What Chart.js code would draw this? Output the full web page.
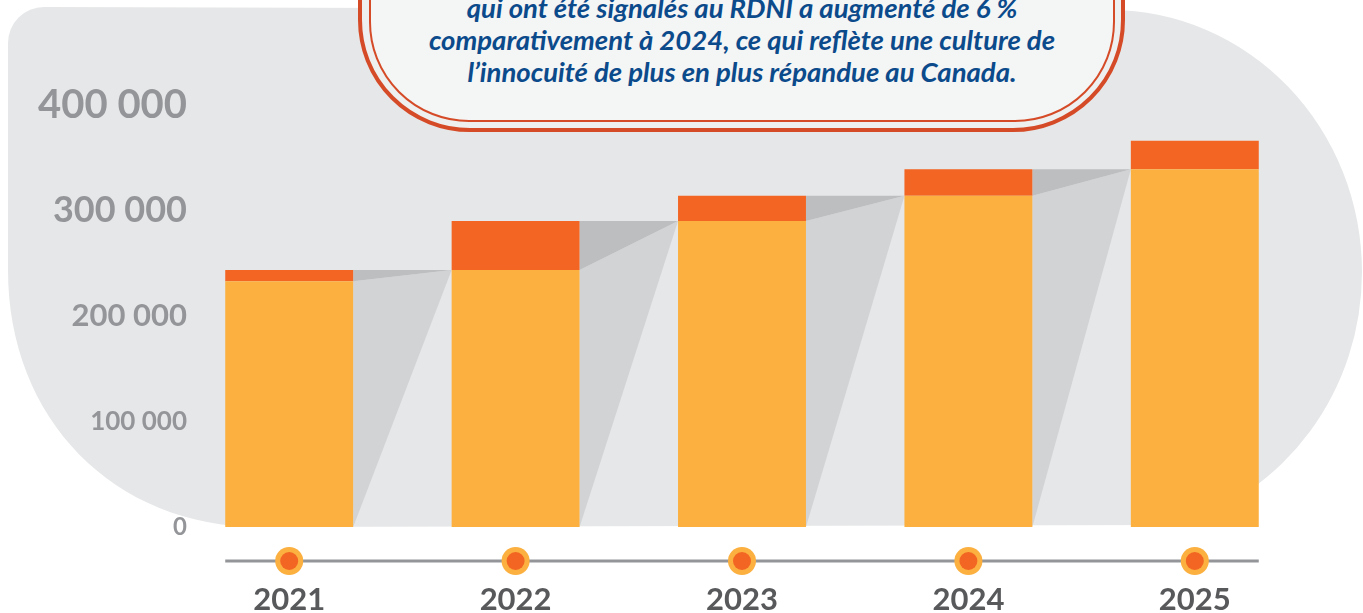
<!DOCTYPE html>
<html>
<head>
<meta charset="utf-8">
<script src="https://cdn.jsdelivr.net/npm/chart.js@4.4.0/dist/chart.umd.min.js"></script>
<style>
  html, body { margin: 0; padding: 0; background: #fff; overflow: hidden; }
  #wrap { position: relative; width: 1363px; height: 613px; overflow: hidden; }
  #chart { position: absolute; left: 0; top: 0; }
  .bubble { position: absolute; box-sizing: border-box; border-style: solid; border-color: #D54B27; }
  #bubbleBack { left: 358px; top: -120px; width: 767px; height: 252px; border-width: 4px; border-radius: 112px; background: #EEEFEF; }
  #bubbleFront { left: 369px; top: -120px; width: 746px; height: 242px; border-width: 2.5px; border-radius: 100px; background: #F4F5F5; }
  #note { position: absolute; left: 369px; width: 746px; top: -8px; text-align: center;
          font: italic bold 27.5px Lato, sans-serif; line-height: 32px; color: #0B4A8B; }
</style>
</head>
<body>
<div id="wrap">
  <canvas id="chart" width="1363" height="613"></canvas>
  <div class="bubble" id="bubbleBack"></div>
  <div class="bubble" id="bubbleFront"></div>
  <div id="note">qui ont été signalés au RDNI a augmenté de 6 %<br>comparativement à 2024, ce qui reflète une culture de<br>l’innocuité de plus en plus répandue au Canada.</div>
</div>
<script>
// values
const years = ["2021", "2022", "2023", "2024", "2025"];
const previousTotal = [233000, 243500, 290000, 314000, 339000];
const increase = [10500, 46500, 24000, 25000, 27000];
const yTickLabels = ["0", "100 000", "200 000", "300 000", "400 000"];
const yTickSizes = [24, 26, 31, 36, 40];

const LIGHT = "#FBB040";
const DARK = "#F26522";

// grey blob behind everything
const backdrop = {
  id: "backdrop",
  beforeDraw(chart) {
    const ctx = chart.ctx;
    ctx.save();
    ctx.fillStyle = "#E6E7E8";
    ctx.beginPath();
    ctx.moveTo(8, 270);
    ctx.lineTo(8, 43);
    ctx.arcTo(8, 7, 44, 7, 36);
    ctx.lineTo(1110, 10);
    ctx.ellipse(1110, 272, 252, 262, 0, -Math.PI / 2, (75 * Math.PI) / 180, false);
    ctx.lineTo(260, 527);
    ctx.bezierCurveTo(114, 527, 8, 419, 8, 270);
    ctx.closePath();
    ctx.fill();
    ctx.restore();
  },
};

// grey "shadow" triangles joining each bar to the next
const connectors = {
  id: "connectors",
  beforeDatasetsDraw(chart) {
    const ctx = chart.ctx;
    const lower = chart.getDatasetMeta(0).data;
    const upper = chart.getDatasetMeta(1).data;
    ctx.save();
    for (let i = 0; i < lower.length - 1; i++) {
      const xR = lower[i].x + lower[i].width / 2;
      const xL = lower[i + 1].x - lower[i + 1].width / 2;
      const yTot = upper[i].y;
      const yBase = lower[i].y;
      const y0 = lower[i].base;
      ctx.fillStyle = "#D1D3D4";
      ctx.beginPath();
      ctx.moveTo(xR, yBase);
      ctx.lineTo(xL, yTot);
      ctx.lineTo(xR, y0);
      ctx.closePath();
      ctx.fill();
      ctx.fillStyle = "#BCBEC0";
      ctx.beginPath();
      ctx.moveTo(xR, yTot);
      ctx.lineTo(xL, yTot);
      ctx.lineTo(xR, yBase);
      ctx.closePath();
      ctx.fill();
    }
    ctx.restore();
  },
};

// timeline with dots under the bars
const timeline = {
  id: "timeline",
  afterDatasetsDraw(chart) {
    const ctx = chart.ctx;
    const bars = chart.getDatasetMeta(0).data;
    const xs = chart.scales.x;
    const y = chart.chartArea.bottom + 34;
    const first = bars[0], last = bars[bars.length - 1];
    ctx.save();
    ctx.strokeStyle = "#939598";
    ctx.lineWidth = 3;
    ctx.beginPath();
    ctx.moveTo(first.x - first.width / 2, y);
    ctx.lineTo(last.x + last.width / 2, y);
    ctx.stroke();
    years.forEach((_, i) => {
      const cx = xs.getPixelForValue(i);
      ctx.fillStyle = LIGHT;
      ctx.beginPath();
      ctx.arc(cx, y, 14, 0, Math.PI * 2);
      ctx.fill();
      ctx.fillStyle = DARK;
      ctx.beginPath();
      ctx.arc(cx, y, 9, 0, Math.PI * 2);
      ctx.fill();
    });
    ctx.restore();
  },
};

const ctx = document.getElementById("chart").getContext("2d");
const chart = new Chart(ctx, {
  type: "bar",
  data: {
    labels: years,
    datasets: [
      { label: "Base", data: previousTotal, backgroundColor: LIGHT },
      { label: "Hausse", data: increase, backgroundColor: DARK },
    ],
  },
  options: {
    responsive: false,
    animation: false,
    devicePixelRatio: 1,
    layout: { padding: { top: 105, right: 55, left: 0, bottom: 0 } },
    datasets: {
      bar: { barPercentage: 0.565, categoryPercentage: 1, borderWidth: 0 },
    },
    plugins: { legend: { display: false }, tooltip: { enabled: false } },
    scales: {
      x: {
        stacked: true,
        grid: { display: false, drawTicks: false },
        border: { display: false },
        ticks: {
          color: "#58595B",
          padding: 54,
          font: { family: "Lato", weight: "bold", size: 31 },
        },
        afterFit: (s) => { s.height = 86; },
      },
      y: {
        stacked: true,
        min: 0,
        max: 400000,
        grid: { display: false, drawTicks: false },
        border: { display: false },
        ticks: {
          stepSize: 100000,
          color: "#939598",
          padding: -11,
          callback: (v, i) => yTickLabels[i],
          font: (c) => ({ family: "Lato", weight: "bold", size: yTickSizes[c.index] || 24 }),
        },
        afterFit: (s) => {
          s.width = 176;
          // labels reach a little past the axis box, so don't clip them
          s._computeLabelArea = () => undefined;
        },
      },
    },
  },
  plugins: [backdrop, connectors, timeline],
});
</script>
</body>
</html>
